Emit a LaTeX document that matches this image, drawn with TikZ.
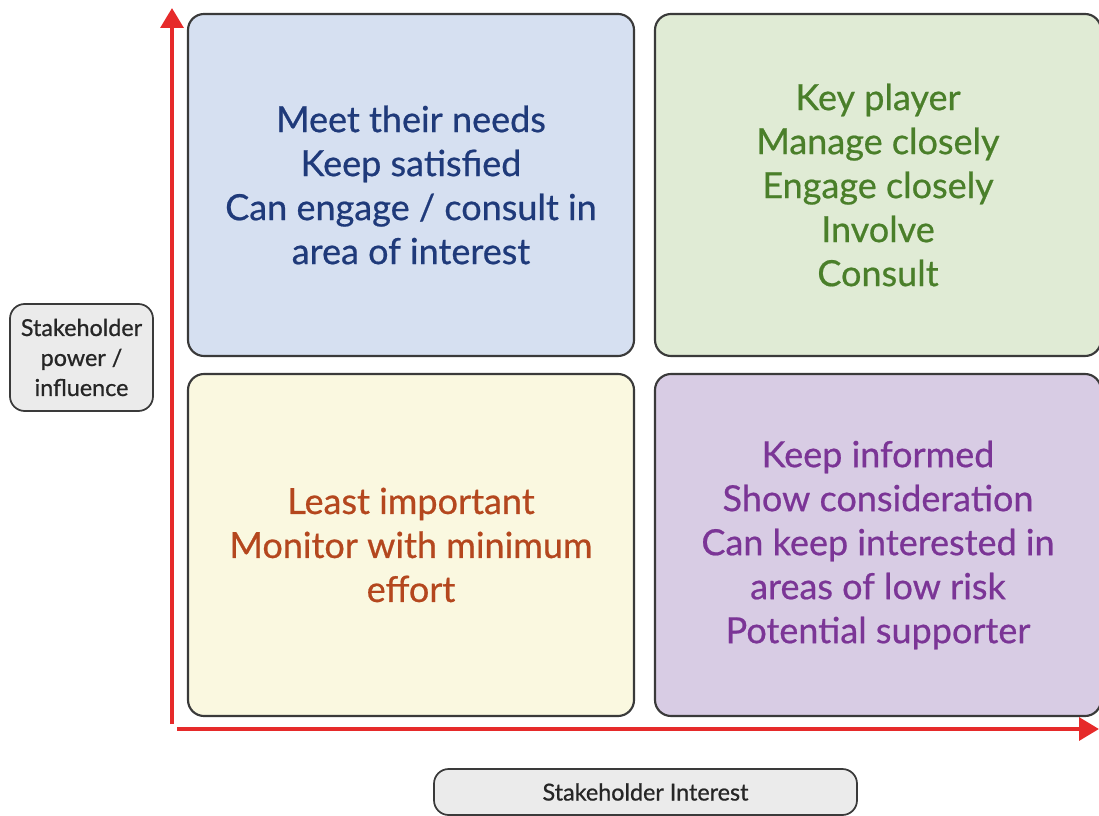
\documentclass[tikz,border=0pt]{standalone}
\usepackage{fontspec}
\setmainfont{Lato}
\newfontfamily\quadfont[FakeBold=0.6]{Lato}
\newfontfamily\labfont[FakeBold=0.8]{Lato}
\usetikzlibrary{arrows.meta}
\definecolor{axisred}{HTML}{E62A2A}
\definecolor{boxedge}{HTML}{3A3A3A}
\definecolor{fillblue}{HTML}{D6E0F1}
\definecolor{fillgreen}{HTML}{E0EBD5}
\definecolor{fillyellow}{HTML}{FAF8E0}
\definecolor{fillpurple}{HTML}{D8CCE4}
\definecolor{txtblue}{HTML}{1F3A7A}
\definecolor{txtgreen}{HTML}{4A7F2A}
\definecolor{txtorange}{HTML}{B4471E}
\definecolor{txtpurple}{HTML}{7B3596}
\definecolor{labelfill}{HTML}{EBEBEB}
\tikzset{
  quad/.style={draw=boxedge, line width=1.6pt, rounded corners=12pt, align=center,
    font=\quadfont\fontsize{27}{33}\selectfont, inner sep=0pt,
    minimum width=446*0.75pt, minimum height=342*0.75pt},
  axislabel/.style={draw=boxedge, line width=1.3pt, rounded corners=11pt, fill=labelfill,
    align=center, font=\labfont\fontsize{17.5}{22.5}\selectfont, text=black!85, inner sep=0pt},
  axis/.style={draw=axisred, line width=3.2pt, -{Triangle[length=15pt,width=17pt]}}
}
\begin{document}
\begin{tikzpicture}[x=0.75pt,y=-0.75pt]
\useasboundingbox (0,0) rectangle (1099,816);
\node[quad, fill=fillblue, text=txtblue] (tl) at (411,185) {Meet their needs\\Keep satisfied\\Can engage / consult in\\area of interest};
\node[quad, fill=fillgreen, text=txtgreen] (tr) at (878,185) {Key player\\Manage closely\\Engage closely\\Involve\\Consult};
\node[quad, fill=fillyellow, text=txtorange] (bl) at (411,545) {Least important\\Monitor with minimum\\effort};
\node[quad, fill=fillpurple, text=txtpurple] (br) at (878,545) {Keep informed\\Show consideration\\Can keep interested in\\areas of low risk\\Potential supporter};
\node[axislabel, minimum width=143*0.75pt, minimum height=107*0.75pt] (ylab) at (81.5,357.5) {Stakeholder\\power /\\influence};
\node[axislabel, minimum width=423*0.75pt, minimum height=46*0.75pt] (xlab) at (645.5,792) {Stakeholder Interest};
\coordinate (yo) at (172,724);
\coordinate (yt) at (172,8);
\coordinate (xo) at (177,729);
\coordinate (xt) at (1099,729);
\draw[axis] (yo) -- (yt);
\draw[axis] (xo) -- (xt);
\end{tikzpicture}
\end{document}
